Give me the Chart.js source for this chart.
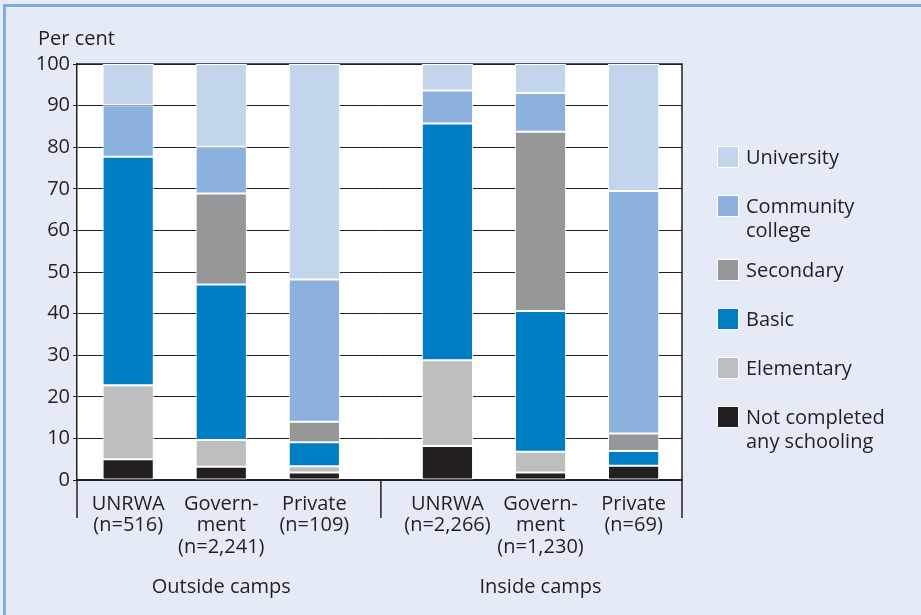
<!DOCTYPE html>
<html>
<head>
<meta charset="utf-8">
<script src="https://cdn.jsdelivr.net/npm/chart.js@4"></script>
<style>
  html, body { margin: 0; padding: 0; background: #e4eaf6; }
  #wrap { position: relative; width: 921px; height: 615px; overflow: hidden; }
  #frame { position: absolute; left: 3px; top: 4px; right: 0; bottom: 0;
           border-left: 3px solid #80abdf; border-top: 3px solid #80abdf; }
  #chart { position: absolute; left: 0; top: 0; }
  #legend { position: absolute; left: 717px; top: 145px; font-family: "Open Sans", sans-serif;
            font-size: 20px; line-height: 24px; color: #231f20; }
  .item { display: flex; align-items: flex-start; margin-bottom: 25px; }
  .item.two { margin-bottom: 16px; }
  .sw { width: 20px; height: 20px; border: 1px solid #fff; margin-right: 7px; margin-top: 1px; flex: none; }
</style>
</head>
<body>
<div id="wrap">
  <div id="frame"></div>
  <canvas id="chart" width="921" height="615"></canvas>
  <div id="legend"></div>
</div>
<script>
(function(){
    // Categories (tick labels, one array of lines per bar)
    const categories = [
        ['UNRWA', '(n=516)'],
        ['Govern-', 'ment', '(n=2,241)'],
        ['Private', '(n=109)'],
        ['UNRWA', '(n=2,266)'],
        ['Govern-', 'ment', '(n=1,230)'],
        ['Private', '(n=69)']
    ];
    const groups = ['Outside camps', 'Inside camps'];
    const groupOf = [0, 0, 0, 1, 1, 1];

    // Per cent of each bar, bottom to top
    const notCompleted = [5.0, 3.2, 1.8, 8.2, 1.8, 3.4];
    const elementary   = [17.8, 6.4, 1.5, 20.6, 5.0, 0];
    const basic        = [54.9, 37.4, 5.8, 56.9, 33.8, 3.6];
    const secondary    = [0, 21.9, 4.9, 0, 43.1, 4.2];
    const community    = [12.4, 11.2, 34.2, 7.9, 9.3, 58.3];
    const university   = [9.9, 19.9, 51.8, 6.4, 7.0, 30.5];

    const yTicks = [0, 10, 20, 30, 40, 50, 60, 70, 80, 90, 100];

    const ink = '#231f20';
    const font = '"Open Sans", sans-serif';
    const groupGap = 0.43; // extra space between the two camp groups
    const xPos = i => i + (groupOf[i] ? groupGap : 0);

    const series = [
        { label: ['Not completed', 'any schooling'], data: notCompleted, color: '#231f20' },
        { label: ['Elementary'], data: elementary, color: '#bdbec0' },
        { label: ['Basic'], data: basic, color: '#007dc3' },
        { label: ['Secondary'], data: secondary, color: '#969798' },
        { label: ['Community', 'college'], data: community, color: '#8db1de' },
        { label: ['University'], data: university, color: '#c3d4ed' }
    ];

    const datasets = series.map(s => ({
        label: s.label.join(' '),
        data: s.data.map((v, i) => ({ x: xPos(i), y: v })),
        backgroundColor: s.color,
        borderColor: '#ffffff',
        borderWidth: 1,
        borderSkipped: false,
        barPercentage: 0.55,
        categoryPercentage: 1
    }));

    // Plot background, frame, group separators and group names
    const decor = {
        id: 'decor',
        beforeDraw(chart) {
            const a = chart.chartArea, ctx = chart.ctx;
            ctx.save();
            ctx.fillStyle = '#ffffff';
            ctx.fillRect(a.left, a.top, a.right - a.left, a.bottom - a.top);
            ctx.restore();
        },
        beforeDatasetsDraw(chart) {
            const a = chart.chartArea, ctx = chart.ctx;
            ctx.save();
            ctx.strokeStyle = ink;
            ctx.lineWidth = 1.5;
            ctx.beginPath();
            ctx.moveTo(a.left, a.top); ctx.lineTo(a.right, a.top); ctx.lineTo(a.right, a.bottom);
            ctx.stroke();
            ctx.restore();
        },
        afterDraw(chart) {
            const a = chart.chartArea, ctx = chart.ctx, x = chart.scales.x;
            ctx.save();
            ctx.strokeStyle = ink;
            ctx.lineWidth = 1.5;
            const sep = x.getPixelForValue((xPos(2) + xPos(3)) / 2);
            [a.left, sep, a.right].forEach(px => {
                ctx.beginPath();
                ctx.moveTo(px, a.bottom);
                ctx.lineTo(px, a.bottom + 38);
                ctx.stroke();
            });
            ctx.fillStyle = ink;
            ctx.font = '20px ' + font;
            ctx.textAlign = 'center';
            ctx.textBaseline = 'alphabetic';
            groups.forEach((g, gi) => {
                const idx = groupOf.map((v, i) => v === gi ? i : -1).filter(i => i >= 0);
                const mid = (xPos(idx[0]) + xPos(idx[idx.length - 1])) / 2;
                ctx.fillText(g, x.getPixelForValue(mid), a.bottom + 113);
            });
            ctx.textAlign = 'left';
            ctx.fillText('Per cent', 38, 45);
            ctx.restore();
        }
    };

    const chart = new Chart(document.getElementById('chart'), {
        type: 'bar',
        data: { datasets: datasets },
        options: {
            responsive: false,
            animation: false,
            layout: { padding: { left: 0, top: 64, right: 239, bottom: 45 } },
            plugins: { legend: { display: false }, tooltip: { enabled: false } },
            scales: {
                x: {
                    type: 'linear',
                    stacked: true,
                    offset: false,
                    min: -0.55,
                    max: 5.95,
                    afterBuildTicks: s => { s.ticks = categories.map((c, i) => ({ value: xPos(i) })); },
                    afterFit: s => { s.height = 90; },
                    grid: { display: false },
                    border: { color: ink, width: 2 },
                    ticks: {
                        autoSkip: false,
                        maxRotation: 0,
                        padding: 5,
                        color: ink,
                        font: { family: font, size: 20, lineHeight: 1.08 },
                        callback: (v, i) => categories[i]
                    }
                },
                y: {
                    stacked: true,
                    min: 0,
                    max: 100,
                    afterBuildTicks: s => { s.ticks = yTicks.map(v => ({ value: v })); },
                    afterFit: s => { s.width = 77; },
                    grid: { color: ink, lineWidth: 1, drawTicks: true, tickLength: 4 },
                    border: { color: ink, width: 1.5 },
                    ticks: {
                        padding: 3,
                        color: ink,
                        font: { family: font, size: 20 }
                    }
                }
            }
        },
        plugins: [decor]
    });

    // Legend, top to bottom: University ... Not completed
    const legendEl = document.getElementById('legend');
    series.slice().reverse().forEach(s => {
        const item = document.createElement('div');
        item.className = 'item' + (s.label.length > 1 ? ' two' : '');
        const sw = document.createElement('div');
        sw.className = 'sw';
        sw.style.background = s.color;
        const txt = document.createElement('div');
        txt.innerHTML = s.label.join('<br>');
        item.appendChild(sw);
        item.appendChild(txt);
        legendEl.appendChild(item);
    });
})();
</script>
</body>
</html>
